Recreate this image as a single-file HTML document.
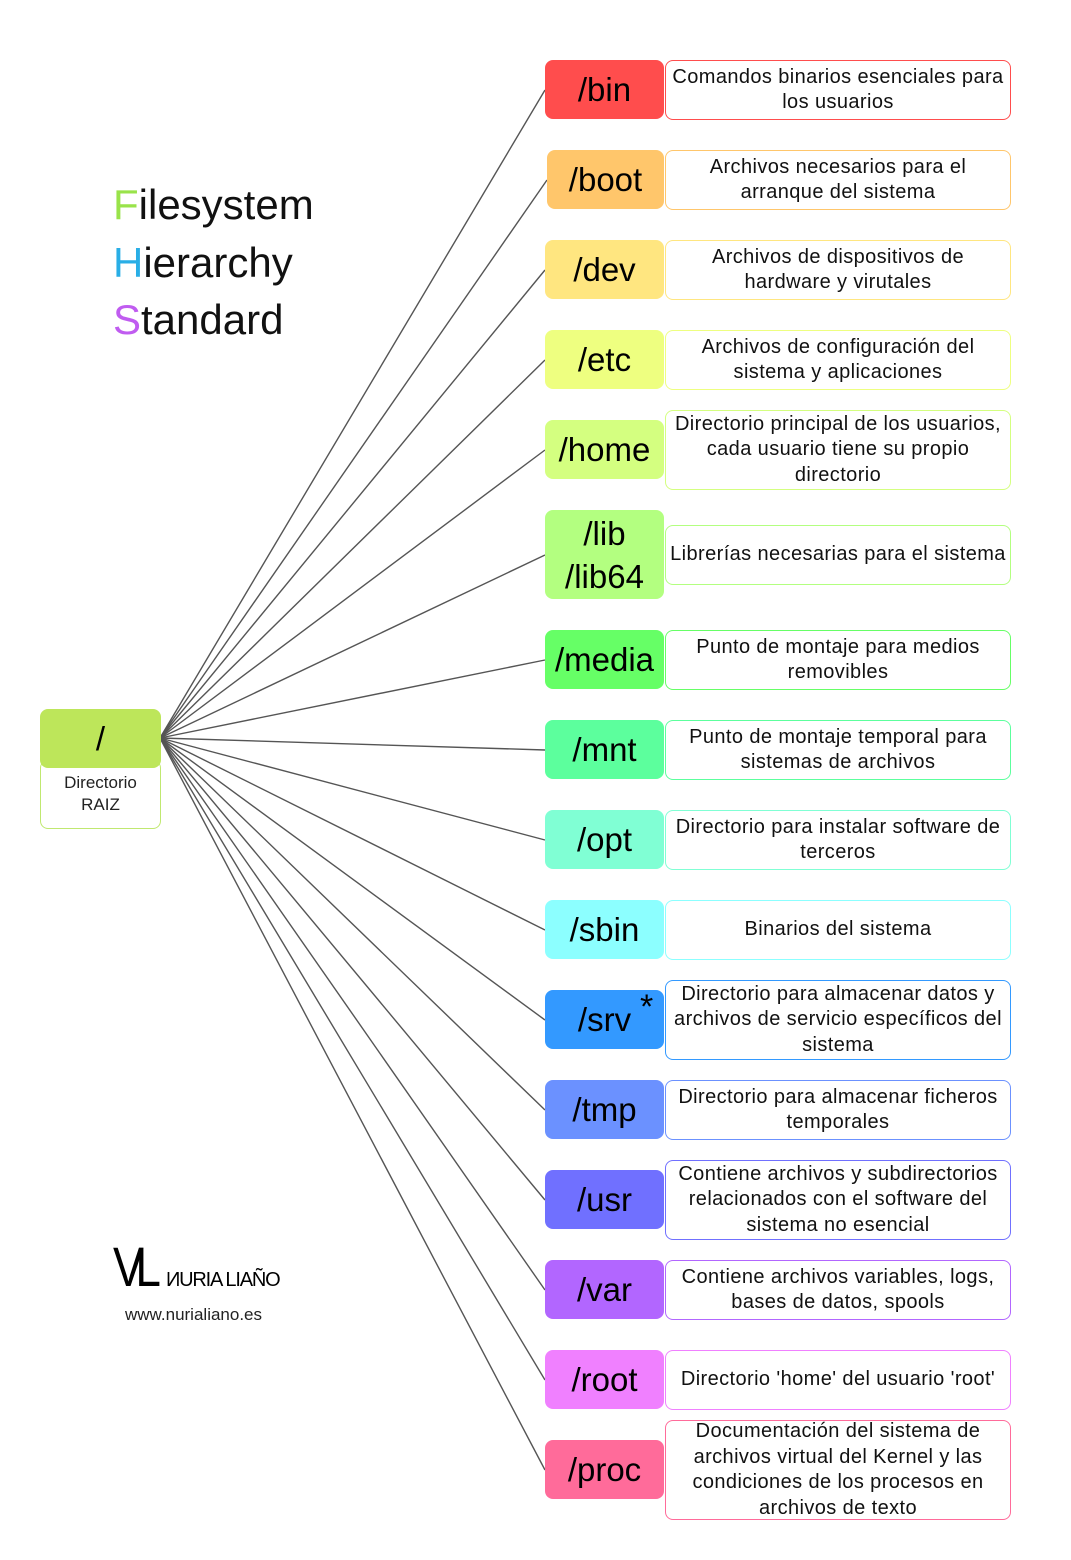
<!DOCTYPE html>
<html><head><meta charset="utf-8"><style>
body{margin:0;width:1071px;height:1560px;background:#fff;position:relative;font-family:"Liberation Sans",sans-serif;overflow:hidden}
.k{position:absolute;left:545px;width:119px;border-radius:8px;display:flex;align-items:center;justify-content:center;font-size:33px;color:#000;text-align:center;line-height:43px}
.d{position:absolute;left:665px;width:346px;border:1px solid;border-radius:8px;display:flex;align-items:center;justify-content:center;font-size:20px;letter-spacing:0.4px;text-align:center;line-height:25.5px;color:#111;background:#fff;box-sizing:border-box}
.t{position:absolute;left:113px;font-size:42px;color:#111}
</style></head><body>
<svg width="1071" height="1560" style="position:absolute;left:0;top:0">
<g stroke="#555" stroke-width="1.4" fill="none">
<line x1="160" y1="738" x2="545" y2="90"/>
<line x1="160" y1="738" x2="547" y2="180"/>
<line x1="160" y1="738" x2="545" y2="270"/>
<line x1="160" y1="738" x2="545" y2="360"/>
<line x1="160" y1="738" x2="545" y2="450"/>
<line x1="160" y1="738" x2="545" y2="555"/>
<line x1="160" y1="738" x2="545" y2="660"/>
<line x1="160" y1="738" x2="545" y2="750"/>
<line x1="160" y1="738" x2="545" y2="840"/>
<line x1="160" y1="738" x2="545" y2="930"/>
<line x1="160" y1="738" x2="545" y2="1020"/>
<line x1="160" y1="738" x2="545" y2="1110"/>
<line x1="160" y1="738" x2="545" y2="1200"/>
<line x1="160" y1="738" x2="545" y2="1290"/>
<line x1="160" y1="738" x2="545" y2="1380"/>
<line x1="160" y1="738" x2="545" y2="1470"/>
</g></svg>
<div class="t" style="top:181px"><span style="color:#99e34a">F</span>ilesystem</div>
<div class="t" style="top:239px"><span style="color:#29aee6">H</span>ierarchy</div>
<div class="t" style="top:296px"><span style="color:#c05cf0">S</span>tandard</div>

<div style="position:absolute;left:40px;top:760px;width:121px;height:69px;border:1px solid #c0e870;border-radius:8px;box-sizing:border-box;text-align:center;font-size:17px;line-height:22px;padding-top:11px;color:#222">Directorio<br>RAIZ</div>
<div class="k" style="left:40px;top:709px;height:59px;width:121px;background:#bde65a">/</div>

<div style="position:absolute;left:113px;top:1244px;font-size:56px;line-height:46px;letter-spacing:-10px;transform:scaleX(0.82);transform-origin:left">VL</div>
<div style="position:absolute;left:166px;top:1269px;font-size:20px;letter-spacing:-1.2px">ИURIA LIAÑO</div>
<div style="position:absolute;left:125px;top:1305px;font-size:17px;color:#222">www.nurialiano.es</div>

<div class="k" style="top:60px;height:59px;background:#ff4d4d">/bin</div>
<div class="d" style="top:60px;height:60px;border-color:#ff4d4d">Comandos binarios esenciales para<br>los usuarios</div>
<div class="k" style="top:150px;height:59px;left:547px;width:117px;background:#ffc66b">/boot</div>
<div class="d" style="top:150px;height:60px;border-color:#ffc66b">Archivos necesarios para el<br>arranque del sistema</div>
<div class="k" style="top:240px;height:59px;background:#ffe680">/dev</div>
<div class="d" style="top:240px;height:60px;border-color:#ffe680">Archivos de dispositivos de<br>hardware y virutales</div>
<div class="k" style="top:330px;height:59px;background:#eeff80">/etc</div>
<div class="d" style="top:330px;height:60px;border-color:#eeff80">Archivos de configuración del<br>sistema y aplicaciones</div>
<div class="k" style="top:420px;height:59px;background:#d4ff80">/home</div>
<div class="d" style="top:410px;height:80px;border-color:#d4ff80">Directorio principal de los usuarios,<br>cada usuario tiene su propio<br>directorio</div>
<div class="k" style="top:510px;height:89px;background:#b3ff80">/lib<br>/lib64</div>
<div class="d" style="top:525px;height:60px;border-color:#b3ff80">Librerías necesarias para el sistema</div>
<div class="k" style="top:630px;height:59px;background:#66ff66">/media</div>
<div class="d" style="top:630px;height:60px;border-color:#66ff66">Punto de montaje para medios<br>removibles</div>
<div class="k" style="top:720px;height:59px;background:#5cff9d">/mnt</div>
<div class="d" style="top:720px;height:60px;border-color:#5cff9d">Punto de montaje temporal para<br>sistemas de archivos</div>
<div class="k" style="top:810px;height:59px;background:#80ffd4">/opt</div>
<div class="d" style="top:810px;height:60px;border-color:#80ffd4">Directorio para instalar software de<br>terceros</div>
<div class="k" style="top:900px;height:59px;background:#8cffff">/sbin</div>
<div class="d" style="top:900px;height:60px;border-color:#8cffff">Binarios del sistema</div>
<div class="k" style="top:990px;height:59px;background:#3399ff">/srv</div>
<div style="position:absolute;left:640px;top:988px;font-size:34px">*</div>
<div class="d" style="top:980px;height:80px;border-color:#3399ff">Directorio para almacenar datos y<br>archivos de servicio específicos del<br>sistema</div>
<div class="k" style="top:1080px;height:59px;background:#6b91ff">/tmp</div>
<div class="d" style="top:1080px;height:60px;border-color:#6b91ff">Directorio para almacenar ficheros<br>temporales</div>
<div class="k" style="top:1170px;height:59px;background:#7070ff">/usr</div>
<div class="d" style="top:1160px;height:80px;border-color:#7070ff">Contiene archivos y subdirectorios<br>relacionados con el software del<br>sistema no esencial</div>
<div class="k" style="top:1260px;height:59px;background:#b266ff">/var</div>
<div class="d" style="top:1260px;height:60px;border-color:#b266ff">Contiene archivos variables, logs,<br>bases de datos, spools</div>
<div class="k" style="top:1350px;height:59px;background:#f080ff">/root</div>
<div class="d" style="top:1350px;height:60px;border-color:#f080ff">Directorio 'home' del usuario 'root'</div>
<div class="k" style="top:1440px;height:59px;background:#ff6b9a">/proc</div>
<div class="d" style="top:1420px;height:100px;border-color:#ff6b9a">Documentación del sistema de<br>archivos virtual del Kernel y las<br>condiciones de los procesos en<br>archivos de texto</div>
</body></html>
